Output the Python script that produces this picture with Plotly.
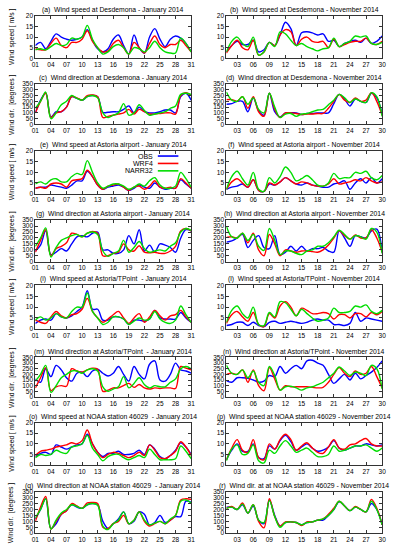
import plotly.graph_objects as go

W, H = 394, 550

days_jan = list(range(1, 32))
days_nov = list(range(1, 31))
jan_tickvals = [1, 4, 7, 10, 13, 16, 19, 22, 25, 28, 31]
jan_ticktext = ["01", "04", "07", "10", "13", "16", "19", "22", "25", "28", "31"]
nov_tickvals = [3, 6, 9, 12, 15, 18, 21, 24, 27, 30]
nov_ticktext = ["03", "06", "09", "12", "15", "18", "21", "24", "27", "30"]
series_names = ["OBS", "WRF4", "NARR32"]

# (a) Wind speed Desdemona Jan
a_obs = [6, 7.5, 4.5, 8, 11.5, 10, 9, 8.5, 9, 10, 13.5, 8.5, 4.5, 3, 4.5, 9, 11, 6, 2, 11, 5, 2.5, 10, 14, 9, 5.5, 9, 10.5, 9.5, 7, 3]
a_wrf = [4.5, 4, 4, 7, 9.5, 6, 5, 7.5, 7.5, 9, 13, 8, 5, 3, 3.5, 7, 8.5, 5, 2, 7.5, 5, 2.5, 7, 10.5, 6.5, 5, 6.5, 6.5, 8.5, 6, 3]
a_narr = [4, 4.5, 4, 5.5, 7, 6, 6.5, 9.5, 9, 10, 15.5, 9, 5, 2, 3, 5.5, 6.5, 5, 2, 5, 4.5, 3, 5, 8, 5, 3, 2.5, 2.5, 9.5, 7, 3]
# (b) Wind speed Desdemona Nov
b_obs = [3, 6, 8, 6.5, 6.5, 8.5, 3, 4, 7.5, 6, 11, 17, 14, 6, 12, 12.5, 12, 11, 11.5, 8, 8.5, 5.5, 7, 8, 8.5, 7.5, 9.5, 7, 8, 10.5]
b_wrf = [2.5, 6, 8.5, 5, 4, 8.5, 1.5, 3, 7.5, 6, 11, 13.5, 12.5, 6, 9, 10, 8, 7.5, 8, 5, 9, 5.5, 6.5, 7.5, 8, 8, 9.5, 7, 6.5, 8]
b_narr = [3, 8, 10, 7, 5.5, 10, 1.5, 3, 7.5, 5.5, 12.5, 11.5, 8.5, 6, 7, 5.5, 4.5, 3.5, 4.5, 5, 9.5, 5.5, 7, 8, 10.5, 10, 10.5, 7, 6.5, 7.5]
# (c) Wind direction Desdemona Jan
c_obs = [100, 210, 270, 65, 110, 110, 150, 240, 225, 210, 240, 250, 240, 105, 105, 110, 110, 130, 160, 100, 150, 110, 100, 100, 110, 125, 125, 100, 240, 270, 210]
c_wrf = [100, 200, 270, 60, 100, 110, 150, 240, 230, 210, 250, 255, 240, 60, 70, 80, 90, 100, 130, 90, 130, 110, 90, 90, 95, 100, 100, 90, 250, 275, 250]
c_narr = [140, 200, 280, 50, 100, 170, 200, 250, 225, 210, 240, 250, 230, 100, 60, 80, 100, 180, 80, 100, 170, 120, 80, 90, 100, 110, 140, 160, 260, 270, 260]
# (d) Wind direction Desdemona Nov
d_obs = [175, 180, 200, 200, 110, 230, 120, 80, 270, 110, 65, 100, 100, 100, 85, 95, 95, 100, 100, 100, 180, 260, 220, 160, 220, 200, 190, 270, 230, 90]
d_wrf = [215, 215, 200, 240, 140, 240, 110, 70, 270, 130, 60, 100, 100, 95, 85, 90, 90, 95, 95, 140, 200, 260, 210, 190, 230, 200, 210, 275, 200, 80]
d_narr = [280, 210, 200, 240, 175, 230, 130, 100, 270, 150, 60, 90, 95, 70, 90, 95, 110, 125, 130, 170, 210, 260, 230, 190, 220, 200, 190, 275, 240, 70]
# (e) Wind speed Astoria airport Jan
e_obs = [2.5, 3, 3, 4, 3.5, 3, 2.5, 4, 6, 6, 10.5, 8, 4, 2, 3, 3.5, 4, 3, 1.5, 2.5, 4, 3, 2.5, 5, 3, 2, 2.5, 2.5, 6.5, 4.5, 2.5]
e_wrf = [2.5, 3, 2.5, 4.5, 5, 4.5, 3, 6, 6.5, 7, 11, 8, 4, 2, 3.5, 4, 4.5, 3, 1.5, 3, 3.5, 2, 3.5, 6, 3, 2.5, 3, 2.5, 7, 5, 2.5]
e_narr = [4.5, 5.5, 4.5, 6.5, 7, 5.5, 5.5, 8, 9.5, 9, 15.5, 10, 5, 2.5, 3.5, 4.5, 4.5, 3.5, 2, 3, 4.5, 3.5, 6, 7.5, 4, 2.5, 2.5, 3.5, 10, 7, 3]
# (f) Wind speed Astoria airport Nov
f_obs = [2, 3, 3.5, 4.5, 3, 6.5, 1.5, 1, 4.5, 4, 5.5, 7.5, 6, 4.5, 4, 5, 4, 3.5, 3, 3, 4.5, 5, 6, 2, 5, 7, 5, 7.5, 5, 7]
f_wrf = [2, 5.5, 7, 5, 3, 6.5, 1.5, 1, 5, 4, 5.5, 7.5, 6, 4.5, 5.5, 5, 4, 3.5, 3.5, 4.5, 7, 4.5, 5, 5.5, 6.5, 6, 7.5, 6, 5, 5.5]
f_narr = [2, 8, 10.5, 7, 4, 10, 2, 1, 7.5, 5, 8, 12.5, 10, 6, 7, 8.5, 6.5, 4, 3.5, 5, 9.5, 7, 7.5, 7.5, 10, 9.5, 10.5, 7.5, 6.5, 8.5]
# (g) Wind direction Astoria airport Jan
g_obs = [90, 140, 260, 60, 80, 110, 90, 150, 210, 220, 210, 240, 250, 100, 100, 70, 70, 100, 220, 150, 270, 90, 140, 80, 150, 140, 120, 80, 200, 270, 260]
g_wrf = [80, 180, 270, 50, 110, 130, 160, 240, 230, 210, 240, 255, 240, 50, 50, 70, 80, 150, 100, 90, 135, 80, 75, 80, 70, 70, 90, 130, 260, 280, 260]
g_narr = [130, 200, 285, 40, 120, 180, 200, 220, 230, 210, 240, 250, 230, 90, 45, 70, 90, 180, 80, 120, 170, 110, 80, 90, 100, 90, 130, 160, 250, 280, 265]
# (h) Wind direction Astoria airport Nov
h_obs = [165, 175, 200, 230, 120, 180, 220, 120, 110, 220, 60, 80, 130, 90, 130, 90, 110, 110, 120, 90, 80, 260, 200, 130, 220, 210, 200, 260, 275, 80]
h_wrf = [205, 210, 200, 240, 160, 240, 100, 50, 230, 150, 50, 100, 90, 80, 90, 90, 85, 80, 100, 140, 200, 260, 220, 190, 225, 200, 200, 270, 200, 80]
h_narr = [300, 210, 200, 240, 180, 230, 130, 95, 280, 180, 60, 90, 90, 70, 60, 90, 100, 130, 130, 160, 210, 265, 230, 190, 220, 210, 190, 280, 250, 70]
# (i) Wind speed Astoria/TPoint Jan
i_obs = [2.5, 4, 4.5, 4, 7, 5.5, 5, 6, 8, 10, 17.5, 9, 9, 4, 4, 5.5, 5.5, 4.5, 2, 4, 4, 3.5, 4.5, 8.5, 5, 4.5, 4.5, 4.5, 7.5, 5, 3]
i_wrf = [4, 3, 2.5, 5.5, 8, 6, 5, 6.5, 7, 9, 14, 8, 5, 3, 4.5, 6.5, 8, 5, 2.5, 5, 7, 3, 5.5, 8.5, 6, 4, 6, 6.5, 8.5, 5.5, 3]
i_narr = [4, 5.5, 4, 5, 7, 5.5, 5, 8, 10, 10, 16.5, 8, 5, 2, 3, 5.5, 5.5, 4.5, 2, 3.5, 5, 4, 4.5, 8, 4.5, 3, 2.5, 4, 10.5, 6.5, 3]
# (l) Wind speed Astoria/TPoint Nov
l_obs = [1.5, 2, 3, 3, 1.5, 3, 1.5, 1, 3, 3.5, 2.5, 3, 3.5, 3, 2.5, 3, 4, 4.5, 4, 4, 2, 2, 1.5, 2.5, 7.5, 3.5, 5, 4.5, 4, 3.5]
l_wrf = [2.5, 6.5, 8, 5.5, 3.5, 7.5, 2, 1, 7, 5, 10.5, 12.5, 10, 6, 9.5, 8.5, 7, 7, 7.5, 7, 4.5, 6.5, 6.5, 5, 7, 7, 5.5, 7.5, 6.5, 8]
l_narr = [3, 8.5, 10.5, 7, 5, 10, 2, 1.5, 7.5, 5.5, 12.5, 12, 9, 6, 9, 7, 5, 3.5, 4, 5, 9.5, 7.5, 7.5, 8, 10.5, 10, 11, 8, 7, 8.5]
# (m) Wind direction Astoria/TPoint Jan
m_obs = [160, 130, 250, 180, 280, 240, 170, 140, 210, 220, 180, 230, 245, 210, 185, 210, 270, 200, 140, 270, 200, 160, 290, 320, 150, 140, 200, 300, 240, 230, 210]
m_wrf = [80, 170, 260, 55, 90, 100, 95, 250, 230, 220, 240, 255, 245, 50, 60, 80, 80, 100, 120, 85, 110, 80, 70, 80, 75, 80, 80, 75, 270, 255, 240]
m_narr = [140, 200, 280, 40, 100, 170, 200, 230, 230, 210, 240, 250, 230, 90, 50, 70, 90, 180, 80, 120, 170, 110, 80, 100, 90, 90, 130, 160, 250, 270, 250]
# (n) Wind direction Astoria/TPoint Nov
n_obs = [145, 130, 170, 170, 165, 150, 130, 140, 190, 180, 270, 210, 250, 280, 250, 320, 325, 300, 280, 200, 120, 160, 200, 150, 210, 160, 190, 220, 260, 320]
n_wrf = [200, 210, 200, 240, 130, 240, 100, 55, 260, 160, 60, 100, 90, 90, 90, 90, 85, 80, 85, 130, 200, 260, 210, 180, 230, 200, 210, 270, 180, 80]
n_narr = [280, 210, 200, 240, 170, 230, 130, 100, 270, 190, 60, 90, 95, 80, 60, 80, 90, 110, 130, 170, 210, 265, 230, 190, 220, 210, 190, 280, 250, 70]
# (o) Wind speed NOAA 46029 Jan
o_obs = [4, 5.5, 6, 5, 9.5, 8.5, 7.5, 8.5, 9.5, 10, 14.5, 10, 6, 4, 5.5, 5.5, 6.5, 5, 5, 5.5, 7, 5, 9.5, 7.5, 4, 3, 4.5, 7, 10.5, 8.5, 5]
o_wrf = [4.5, 6.5, 7, 7.5, 8.5, 9, 9.5, 10.5, 10, 11.5, 16.5, 10, 6, 3.5, 5, 6, 5.5, 4.5, 3.5, 4.5, 6, 4.5, 9.5, 7, 3.5, 3, 4.5, 6.5, 11, 8.5, 4.5]
o_narr = [3.5, 5, 4.5, 5, 7, 6, 5.5, 8.5, 9, 10, 14, 8, 5, 2, 4, 5, 5, 3.5, 2.5, 3.5, 4.5, 3.5, 7.5, 5, 2.5, 2.5, 2.5, 3, 9, 6.5, 3]
# (p) Wind speed NOAA 46029 Nov
p_obs = [2.5, 7, 10, 6.5, 6.5, 10, 3.5, 3, 9, 7.5, 11.5, 14, 11, 7, 8.5, 10, 8, 6.5, 7, 8.5, 11.5, 8, 7, 8, 9, 9, 10, 9.5, 9, 9.5]
p_wrf = [2.5, 8, 12, 7, 6, 12, 3.5, 2.5, 10, 7.5, 12, 14.5, 12, 7, 9, 10.5, 8, 6, 5.5, 8.5, 12, 8, 7.5, 9.5, 10, 11.5, 12.5, 10, 9, 9]
p_narr = [2, 7.5, 9.5, 5, 5.5, 9.5, 2, 1, 7, 5.5, 9, 11.5, 9, 6, 7, 8, 6, 4, 4, 5, 9, 6.5, 7, 8, 9, 9, 9.5, 8, 6.5, 8]
# (q) Wind direction NOAA 46029 Jan
q_obs = [120, 200, 290, 40, 80, 160, 190, 240, 220, 210, 240, 250, 240, 100, 40, 80, 120, 180, 80, 100, 180, 160, 70, 90, 150, 90, 110, 140, 140, 270, 260]
q_wrf = [100, 220, 310, 35, 100, 160, 190, 250, 230, 210, 255, 260, 250, 50, 40, 80, 100, 150, 80, 110, 180, 100, 60, 80, 100, 80, 110, 150, 280, 290, 285]
q_narr = [130, 200, 290, 35, 110, 170, 200, 240, 225, 210, 240, 250, 235, 60, 30, 80, 110, 180, 80, 110, 180, 110, 70, 85, 100, 80, 120, 150, 270, 280, 255]
# (r) Wind direction NOAA 46029 Nov
r_obs = [220, 220, 200, 240, 170, 230, 110, 80, 280, 150, 60, 90, 95, 90, 70, 90, 95, 110, 110, 150, 200, 265, 230, 190, 220, 200, 180, 250, 200, 70]
r_wrf = [210, 225, 200, 255, 170, 240, 100, 45, 290, 140, 60, 95, 95, 90, 65, 95, 95, 110, 120, 160, 210, 270, 230, 190, 225, 200, 180, 285, 210, 70]
r_narr = [210, 220, 200, 245, 170, 240, 110, 90, 275, 140, 50, 90, 95, 90, 70, 90, 95, 110, 120, 150, 200, 270, 230, 190, 220, 200, 180, 270, 200, 70]

panels = [
    ("(a)  Wind speed at Desdemona - January 2014", "speed", "jan", (a_obs, a_wrf, a_narr)),
    ("(b)  Wind speed at Desdemona - November 2014", "speed", "nov", (b_obs, b_wrf, b_narr)),
    ("(c)  Wind direction at Desdemona - January 2014", "dir", "jan", (c_obs, c_wrf, c_narr)),
    ("(d)  Wind direction at Desdemona - November 2014", "dir", "nov", (d_obs, d_wrf, d_narr)),
    ("(e)  Wind speed at Astoria airport - January 2014", "speed", "jan", (e_obs, e_wrf, e_narr)),
    ("(f)  Wind speed at Astoria airport - November 2014", "speed", "nov", (f_obs, f_wrf, f_narr)),
    ("(g)  Wind direction at Astoria airport - January 2014", "dir", "jan", (g_obs, g_wrf, g_narr)),
    ("(h)  Wind direction at Astoria airport - November 2014", "dir", "nov", (h_obs, h_wrf, h_narr)),
    ("(i)  Wind speed at Astoria/TPoint  - January 2014", "speed", "jan", (i_obs, i_wrf, i_narr)),
    ("(l)  Wind speed at Astoria/TPoint - November 2014", "speed", "nov", (l_obs, l_wrf, l_narr)),
    ("(m)  Wind direction at Astoria/TPoint  - January 2014", "dir", "jan", (m_obs, m_wrf, m_narr)),
    ("(n)  Wind direction at Astoria/TPoint - November 2014", "dir", "nov", (n_obs, n_wrf, n_narr)),
    ("(o)  Wind speed at NOAA station 46029  - January 2014", "speed", "jan", (o_obs, o_wrf, o_narr)),
    ("(p)  Wind speed at NOAA station 46029 - November 2014", "speed", "nov", (p_obs, p_wrf, p_narr)),
    ("(q)  Wind direction at NOAA station 46029  - January 2014", "dir", "jan", (q_obs, q_wrf, q_narr)),
    ("(r)  Wind dir. at at NOAA station 46029 - November 2014", "dir", "nov", (r_obs, r_wrf, r_narr)),
]

COLORS = ["#0000ff", "#ff0000", "#00dd00"]
FONT = "Liberation Sans, Arial, Helvetica, sans-serif"
AXCOL = "#333333"

# layout geometry (pixels)
col_x = [(32, 191), (227, 386)]
row_tops = [12, 81, 149, 219, 285, 358, 424, 494]
row_bots = [55, 122, 192, 261, 329, 398, 467, 536]

def px(x):
    return x / W

def py(y):
    return 1 - y / H

fig = go.Figure()
layout = dict(
    width=W, height=H,
    margin=dict(l=0, r=0, t=0, b=0),
    paper_bgcolor="white", plot_bgcolor="white",
    showlegend=False,
    font=dict(family=FONT, size=7, color="#000"),
)
annotations = []
shapes = []

for k, (title, kind, month, vals) in enumerate(panels):
    row, col = k // 2, k % 2
    idx = k + 1
    xs = days_jan if month == "jan" else days_nov
    for name, series, color in zip(series_names, vals, COLORS):
        fig.add_trace(go.Scatter(
            x=xs, y=series, name=name, mode="lines",
            xaxis=f"x{idx}", yaxis=f"y{idx}",
            line=dict(color=color, width=1.4, shape="spline", smoothing=1.0),
            showlegend=False, hoverinfo="skip",
        ))
    xl, xr = col_x[col]
    yt, yb = row_tops[row], row_bots[row]
    common = dict(showline=True, linecolor=AXCOL, linewidth=1, mirror="ticks",
                  ticks="inside", ticklen=3, tickcolor=AXCOL, showgrid=False,
                  zeroline=False, tickfont=dict(size=6.5, family=FONT, color="#000"),
                  fixedrange=True)
    if month == "jan":
        xa = dict(range=[1, 31], tickvals=jan_tickvals, ticktext=jan_ticktext)
    else:
        xa = dict(range=[1, 30], tickvals=nov_tickvals, ticktext=nov_ticktext)
    xa.update(common)
    xa.update(domain=[px(xl), px(xr)], anchor=f"y{idx}")
    if kind == "speed":
        ya = dict(range=[0, 20], tickvals=[0, 5, 10, 15, 20])
    else:
        ya = dict(range=[0, 350], tickvals=list(range(0, 351, 50)))
    ya.update(common)
    ya.update(domain=[py(yb), py(yt)], anchor=f"x{idx}")
    layout[f"xaxis{idx}"] = xa
    layout[f"yaxis{idx}"] = ya

    annotations.append(dict(
        text=title, xref="paper", yref="paper",
        x=px((xl + xr) / 2), y=py(yt - 6), xanchor="center", yanchor="middle",
        showarrow=False, font=dict(size=6.8, family=FONT, color="#000"),
    ))
    if col == 0:
        ytitle = "Wind speed [ m/s ]" if kind == "speed" else "Wind dir.  [degrees ]"
        annotations.append(dict(
            text=ytitle, xref="paper", yref="paper",
            x=px(8), y=py((yt + yb) / 2), xanchor="center", yanchor="middle",
            textangle=-90, showarrow=False,
            font=dict(size=6.8, family=FONT, color="#000"),
        ))

# key inside panel (e)
key_y = [154, 161.5, 169]
for name, color, ky in zip(series_names, COLORS, key_y):
    annotations.append(dict(
        text=name, xref="paper", yref="paper", x=px(154), y=py(ky),
        xanchor="right", yanchor="middle", showarrow=False,
        font=dict(size=7, family=FONT, color="#000"),
    ))
    shapes.append(dict(
        type="line", xref="paper", yref="paper",
        x0=px(157), x1=px(178), y0=py(ky), y1=py(ky),
        line=dict(color=color, width=1.6),
    ))

layout["annotations"] = annotations
layout["shapes"] = shapes
fig.update_layout(**layout)
fig.write_html(
    "out.html",
    config={"displayModeBar": False, "staticPlot": True},
    post_script="document.body.style.margin='0';document.body.style.overflow='hidden';",
)
